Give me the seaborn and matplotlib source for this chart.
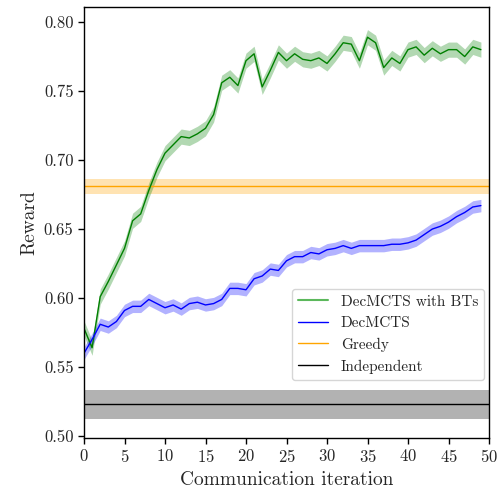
import numpy as np
import pandas as pd
import seaborn as sns
from matplotlib import pyplot as plt
from matplotlib.lines import Line2D

iterations = list(range(50))

bt_reward = [0.578, 0.564, 0.601, 0.612, 0.624, 0.636, 0.656, 0.661, 0.678, 0.693,
             0.705, 0.711, 0.717, 0.716, 0.719, 0.723, 0.733, 0.756, 0.760, 0.754,
             0.772, 0.777, 0.753, 0.765, 0.778, 0.772, 0.777, 0.773, 0.772, 0.774,
             0.770, 0.777, 0.785, 0.784, 0.772, 0.789, 0.785, 0.767, 0.774, 0.770,
             0.780, 0.782, 0.776, 0.781, 0.777, 0.780, 0.780, 0.775, 0.782, 0.780]

dec_reward = [0.560, 0.570, 0.581, 0.579, 0.583, 0.591, 0.594, 0.594, 0.599, 0.596,
              0.593, 0.595, 0.592, 0.596, 0.597, 0.595, 0.596, 0.599, 0.607, 0.607,
              0.606, 0.614, 0.616, 0.621, 0.620, 0.627, 0.630, 0.630, 0.633, 0.632,
              0.635, 0.636, 0.638, 0.636, 0.638, 0.638, 0.638, 0.638, 0.639, 0.639,
              0.640, 0.642, 0.646, 0.650, 0.652, 0.655, 0.659, 0.662, 0.666, 0.667]

bt_err = 0.0055
dec_err = 0.0045

greedy_reward = 0.681
greedy_err = 0.0055
indep_reward = 0.523
indep_err = 0.0103

labels = ['DecMCTS with BTs', 'DecMCTS', 'Greedy', 'Independent']

df = pd.DataFrame({'iteration': iterations, 'bt': bt_reward, 'dec': dec_reward})

sns.set_style('ticks')
plt.rcParams['font.family'] = ['cmr10']
plt.rcParams['mathtext.fontset'] = 'cm'
plt.rcParams['axes.formatter.use_mathtext'] = True
plt.rcParams['axes.unicode_minus'] = False

fig = plt.figure(figsize=(5.01, 4.91), dpi=100)
ax = fig.add_axes([84 / 501, 1 - 438 / 491, 405 / 501, 431 / 491])

# baselines
ax.axhspan(indep_reward - indep_err, indep_reward + indep_err, color='black', alpha=0.3, lw=0)
ax.axhline(indep_reward, color='black', lw=1)
ax.axhspan(greedy_reward - greedy_err, greedy_reward + greedy_err, color='orange', alpha=0.3, lw=0)
ax.axhline(greedy_reward, color='orange', lw=1)

# curves
ax.fill_between(df['iteration'], df['bt'] - bt_err, df['bt'] + bt_err, color='green', alpha=0.3, lw=0)
sns.lineplot(data=df, x='iteration', y='bt', color='green', lw=1, ax=ax)
ax.fill_between(df['iteration'], df['dec'] - dec_err, df['dec'] + dec_err, color='blue', alpha=0.3, lw=0)
sns.lineplot(data=df, x='iteration', y='dec', color='blue', lw=1, ax=ax)

ax.set_xlim(0, 50)
ax.set_ylim(0.4986, 0.8109)
ax.set_xticks(np.arange(0, 51, 5))
ax.set_yticks(np.arange(0.50, 0.801, 0.05))
ax.set_yticklabels([f'{v:.2f}' for v in np.arange(0.50, 0.801, 0.05)])
ax.tick_params(labelsize=12, direction='out', length=4, width=1, color='black')
for s in ax.spines.values():
    s.set_color('black')
    s.set_linewidth(1)

ax.set_xlabel('Communication iteration', fontsize=14)
ax.set_ylabel('Reward', fontsize=14)

handles = [Line2D([], [], color='#5cb85c', lw=1.5),
           Line2D([], [], color='blue', lw=1),
           Line2D([], [], color='orange', lw=1),
           Line2D([], [], color='black', lw=1)]
ax.legend(handles, labels, loc='lower right', bbox_to_anchor=(0.988, 0.135),
          borderaxespad=0, fontsize=11, frameon=True)

fig.savefig('out.png', dpi=100)
